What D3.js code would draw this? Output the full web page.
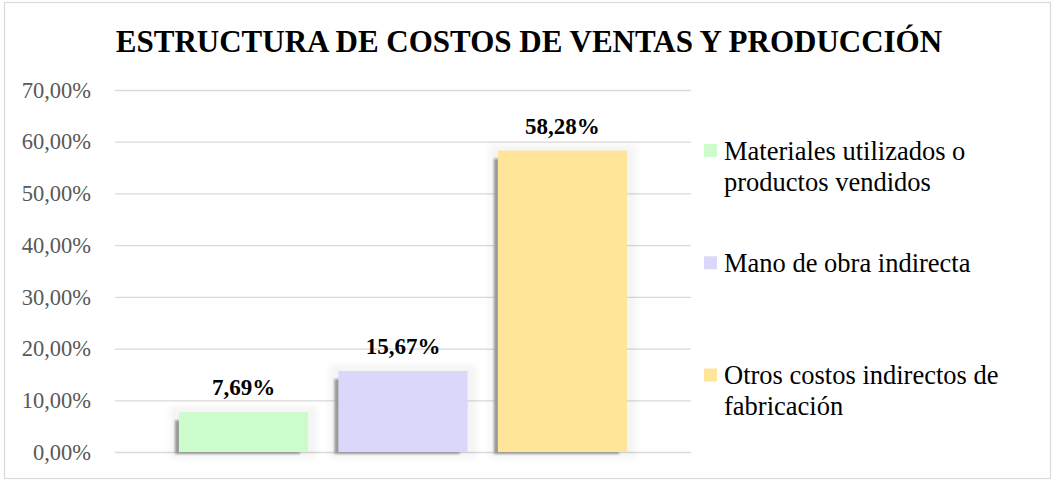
<!DOCTYPE html>
<html>
<head>
<meta charset="utf-8">
<script src="https://cdn.jsdelivr.net/npm/d3@7/dist/d3.min.js"></script>
<style>
  body { margin: 0; background: #fff; }
  svg text { font-family: "Liberation Serif", "Times New Roman", serif; }
</style>
</head>
<body>
<div id="chart"></div>
<script>
// data
var chartTitle = "ESTRUCTURA DE COSTOS DE VENTAS Y PRODUCCIÓN";
var series = ["Materiales utilizados o productos vendidos", "Mano de obra indirecta", "Otros costos indirectos de fabricación"];
var legendLines = [["Materiales utilizados o", "productos vendidos"], ["Mano de obra indirecta"], ["Otros costos indirectos de", "fabricación"]];
var values = [0.0769, 0.1567, 0.5828];
var colors = ["#ccfccb", "#dad8fa", "#fee599"];
var yTicks = [0, 0.1, 0.2, 0.3, 0.4, 0.5, 0.6, 0.7];

var width = 1054, height = 481;
var plot = { left: 115, right: 691, top: 90, bottom: 452 };

var svg = d3.select("#chart").append("svg")
  .attr("width", width)
  .attr("height", height);

var defs = svg.append("defs");
defs.append("filter").attr("id", "soft")
  .attr("x", "-20%").attr("y", "-20%").attr("width", "140%").attr("height", "140%")
  .append("feGaussianBlur").attr("stdDeviation", 0.9);
defs.append("filter").attr("id", "glow")
  .attr("x", "-20%").attr("y", "-20%").attr("width", "140%").attr("height", "140%")
  .append("feGaussianBlur").attr("stdDeviation", 3);

// chart area border
svg.append("rect")
  .attr("x", 4.5).attr("y", 2.5)
  .attr("width", 1046).attr("height", 476)
  .attr("fill", "#fff")
  .attr("stroke", "#d9d9d9")
  .attr("stroke-width", 1.2);

svg.append("text")
  .attr("x", 529)
  .attr("y", 52)
  .attr("text-anchor", "middle")
  .style("font-size", "31px")
  .style("font-weight", "bold")
  .text(chartTitle);

var yScale = d3.scaleLinear().domain([0, 0.7]).range([plot.bottom, plot.top]);

// one category, three series clustered in the middle
var gap = (plot.right - plot.left) * 0.111;
var xScale = d3.scaleBand()
  .domain(series)
  .range([plot.left + gap, plot.right - gap])
  .paddingInner(0.19)
  .paddingOuter(0);

var fmt = function (v) { return (v * 100).toFixed(2).replace(".", ",") + "%"; };

var yAxis = svg.append("g")
  .attr("class", "y axis")
  .attr("transform", "translate(" + plot.left + ",0)")
  .call(d3.axisLeft(yScale)
    .tickValues(yTicks)
    .tickSize(-(plot.right - plot.left))
    .tickPadding(24)
    .tickFormat(fmt));
yAxis.attr("font-family", null);
yAxis.select(".domain").remove();
yAxis.selectAll("line")
  .attr("stroke", "#d9d9d9")
  .attr("stroke-width", 1.3);
yAxis.selectAll("text")
  .attr("fill", "#595959")
  .style("font-size", "22.5px");

var bars = svg.selectAll(".bar")
  .data(values)
  .enter().append("g")
  .attr("class", "bar");

bars.append("rect")
  .attr("x", function (d, i) { return xScale(series[i]) - 9; })
  .attr("y", function (d) { return yScale(d) - 6; })
  .attr("width", xScale.bandwidth() + 18)
  .attr("height", function (d) { return plot.bottom - yScale(d) + 12; })
  .attr("fill", "#000")
  .attr("opacity", 0.04)
  .attr("filter", "url(#glow)");

bars.append("rect")
  .attr("x", function (d, i) { return xScale(series[i]) - 4; })
  .attr("y", function (d) { return yScale(d) + 8; })
  .attr("width", xScale.bandwidth() - 4)
  .attr("height", function (d) { return plot.bottom - yScale(d) - 6; })
  .attr("fill", "#999")
  .attr("filter", "url(#soft)");

bars.append("rect")
  .attr("x", function (d, i) { return xScale(series[i]); })
  .attr("y", function (d) { return yScale(d); })
  .attr("width", xScale.bandwidth())
  .attr("height", function (d) { return plot.bottom - yScale(d); })
  .attr("fill", function (d, i) { return colors[i]; });

bars.append("text")
  .attr("x", function (d, i) { return xScale(series[i]) + xScale.bandwidth() / 2; })
  .attr("y", function (d) { return yScale(d) - 17; })
  .attr("text-anchor", "middle")
  .style("font-size", "23px")
  .style("font-weight", "bold")
  .text(fmt);

// legend
var legendY = d3.scalePoint().domain(series).range([150.5, 375]);
var legend = svg.selectAll(".legend")
  .data(series)
  .enter().append("g")
  .attr("class", "legend")
  .attr("transform", function (d) { return "translate(704," + legendY(d) + ")"; });

legend.append("rect")
  .attr("x", 0).attr("y", -6.5)
  .attr("width", 13).attr("height", 13)
  .attr("fill", function (d, i) { return colors[i]; });

legend.append("text")
  .attr("x", 20)
  .attr("y", 9)
  .style("font-size", "26.5px")
  .attr("fill", "#000")
  .selectAll("tspan")
  .data(function (d, i) { return legendLines[i]; })
  .enter().append("tspan")
  .attr("x", 20)
  .attr("dy", function (d, j) { return j === 0 ? 0 : 31; })
  .text(function (d) { return d; });
</script>
</body>
</html>
